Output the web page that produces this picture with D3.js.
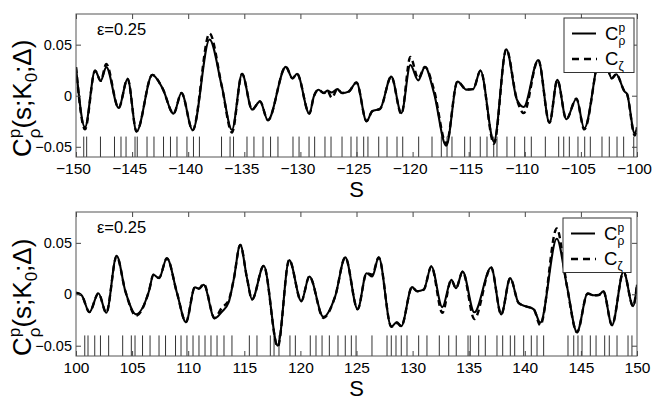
<!DOCTYPE html>
<html><head><meta charset="utf-8">
<script src="https://cdn.jsdelivr.net/npm/d3@7"></script>
<style>body{margin:0;background:#fff} svg{display:block} text{font-family:"Liberation Sans",Arial,Helvetica,sans-serif;fill:#000}</style>
</head><body><svg id="c" width="654" height="403"></svg>
<script>
// ---- data: upper panel (s from -150 to -100) ----
const topS=[-150,-149.2,-148.3,-147.8,-147.3,-146.2,-145.4,-144.6,-143.2,-142.3,-141.3,-140.6,-139.6,-138.1,-137.0,-136.1,-135.2,-134.3,-133.6,-132.9,-131.3,-130.7,-130.3,-129.2,-128.8,-128.4,-127.9,-127.6,-127.2,-126.7,-126.3,-125.7,-125.0,-124.1,-123.6,-122.9,-121.9,-121.0,-120.2,-119.5,-118.9,-118.1,-117.0,-116.0,-115.2,-114.6,-113.95,-112.75,-111.65,-110.7,-110.1,-108.8,-107.8,-107.1,-106.3,-105.4,-104.7,-103.2,-102.7,-102.25,-101.85,-101.1,-100.9,-100.2,-100.0];
const topRho=[0.028,-0.031,0.0246,0.0146,0.028,-0.012,0.0165,-0.035,0.0204,0.0075,-0.0175,0.0026,-0.0337,0.055,0.009,-0.0335,0.0214,-0.0136,-0.0055,-0.024,0.0282,0.017,0.0215,-0.0175,-0.0006,0.0058,0.0026,0.005,0.0032,0.0065,0.0026,0.004,0.013,-0.025,-0.0152,-0.0129,0.0187,-0.017,0.030,0.015,0.0282,0.003,-0.049,0.0139,0.006,0.0065,0.0246,-0.045,0.0455,-0.004,-0.011,0.035,-0.0265,0.0155,-0.023,-0.003,-0.032,0.042,0.030,0.017,0.021,0.004,0.002,-0.037,-0.031];
const topZeta=[0.028,-0.033,0.0246,0.0146,0.031,-0.012,0.0165,-0.035,0.0204,0.0075,-0.0175,0.0026,-0.0337,0.061,0.009,-0.036,0.0214,-0.0136,-0.0055,-0.024,0.0282,0.017,0.0215,-0.0175,-0.0006,0.0058,0.0026,0.005,-0.002,0.0065,0.0026,0.004,0.013,-0.025,-0.0152,-0.0129,0.0187,-0.018,0.038,0.017,0.0282,0.006,-0.047,0.0139,0.006,0.0065,0.0246,-0.047,0.0455,-0.004,-0.017,0.035,-0.0265,0.0155,-0.023,-0.003,-0.033,0.042,0.030,0.017,0.021,0.004,0.002,-0.039,-0.031];
const topRug=[-149.31,-149.05,-147.82,-146.57,-145.99,-145.54,-144.74,-144.54,-143.67,-143.05,-142.20,-141.58,-141.00,-140.11,-139.53,-139.00,-137.03,-136.27,-135.96,-134.76,-134.14,-133.33,-132.66,-132.00,-130.66,-130.12,-129.23,-128.73,-127.81,-127.27,-126.29,-125.49,-124.96,-124.36,-123.98,-123.02,-122.28,-121.39,-120.88,-119.46,-118.27,-117.44,-116.93,-116.49,-115.36,-114.86,-113.97,-113.37,-112.77,-112.48,-111.59,-110.90,-110.01,-109.42,-108.17,-106.98,-106.53,-106.03,-105.26,-104.66,-104.16,-103.12,-102.47,-101.78,-101.19,-100.29];
const topXTicks=[-150,-145,-140,-135,-130,-125,-120,-115,-110,-105,-100];

// ---- data: lower panel (s from 100 to 150) ----
const botS=[100.0,100.5,101.2,102.0,102.7,103.62,104.4,105.35,106.5,106.9,107.4,108.1,109.0,109.8,110.6,110.96,111.38,112.35,113.0,113.6,114.05,114.64,115.24,115.69,116.73,117.98,119.0,120.08,120.8,122.05,123.1,124.0,125.1,125.9,126.4,126.98,128.1,128.6,128.99,129.95,130.4,130.99,131.67,132.65,133.45,133.87,134.46,135.5,137.0,137.9,138.7,139.45,140.05,140.8,141.38,142.85,143.76,144.65,145.6,146.14,146.6,147.0,147.77,148.8,149.65,150.0];
const botRho=[0.0015,-0.001,-0.0173,0.001,-0.018,0.0375,0.003,-0.0195,0.003,0.019,0.0157,0.035,0.0013,-0.027,0.0068,0.0055,0.0092,-0.0235,-0.017,-0.008,0.014,0.048,0.0157,-0.005,0.0276,-0.05,0.0334,-0.0067,0.0173,-0.022,-0.002,0.0359,-0.0145,0.0205,0.0173,0.0359,-0.0315,-0.027,-0.031,0.007,0.003,0.0045,0.027,-0.0125,0.014,0.006,0.022,-0.0175,0.026,-0.0195,0.0157,-0.0084,-0.0115,-0.0147,-0.0276,0.054,0.0077,-0.0366,0.0007,-0.001,-0.0007,0.003,-0.030,0.022,-0.0115,0.0093];
const botZeta=[0.0015,-0.001,-0.0173,0.001,-0.018,0.037,0.003,-0.021,0.003,0.019,0.016,0.035,0.0013,-0.027,0.0068,0.0055,0.0103,-0.023,-0.013,-0.006,0.014,0.048,0.0157,-0.005,0.0276,-0.051,0.0334,-0.0067,0.0173,-0.023,-0.002,0.0359,-0.0145,0.0205,0.019,0.0359,-0.0315,-0.028,-0.031,0.007,0.003,0.0045,0.027,-0.018,0.014,0.006,0.022,-0.024,0.026,-0.0195,0.0157,-0.0084,-0.0115,-0.0147,-0.030,0.064,0.0077,-0.037,0.0007,-0.001,-0.0007,0.003,-0.030,0.022,-0.0115,0.0093];
const botRug=[100.78,101.07,101.67,102.18,102.91,104.16,104.93,105.26,105.93,106.60,107.40,107.98,108.87,109.36,109.89,110.43,110.96,111.50,112.03,112.57,113.19,113.90,115.45,116.13,117.32,117.65,118.09,119.07,119.55,120.88,121.39,121.93,122.58,123.35,124.00,124.54,124.96,126.38,127.72,128.10,128.52,128.99,129.50,130.54,131.28,132.38,133.22,133.89,134.94,135.14,135.89,136.48,137.52,138.03,138.71,139.10,139.90,140.58,141.09,141.68,143.85,144.36,144.74,145.10,145.84,146.35,147.12,147.53,148.22,149.20,149.55];
const botXTicks=[100,105,110,115,120,125,130,135,140,145,150];

const yTicks=[-0.05,0,0.05];
const yDomain=[-0.06,0.08];
const rugRange=[-0.06,-0.04];
const epsText="ε=0.25";
const xLabel="S";

const svg=d3.select('#c');
const L=76,R=637;

function panel(cfg,idx){
  const x=d3.scaleLinear().domain(cfg.xd).range([L,R]);
  const y=d3.scaleLinear().domain(yDomain).range([cfg.b,cfg.t]);
  const g=svg.append('g');
  const cid='clip'+idx;
  g.append('clipPath').attr('id',cid).append('rect')
    .attr('x',L).attr('y',cfg.t).attr('width',R-L).attr('height',cfg.b-cfg.t);
  const pg=g.append('g').attr('clip-path',`url(#${cid})`);
  pg.selectAll('line.rug').data(cfg.rug).join('line').attr('class','rug')
    .attr('x1',d=>x(d)).attr('x2',d=>x(d)).attr('y1',y(rugRange[0])).attr('y2',y(rugRange[1]))
    .attr('stroke','#333').attr('stroke-width',1);
  const line=d3.line().x(d=>x(d[0])).y(d=>y(d[1])).curve(d3.curveMonotoneX);
  const rho=cfg.s.map((s,i)=>[s,cfg.rho[i]]);
  const zeta=cfg.s.map((s,i)=>[s,cfg.zeta[i]]);
  pg.append('path').attr('d',line(rho)).attr('fill','none').attr('stroke','#000').attr('stroke-width',2.1);
  pg.append('path').attr('d',line(zeta)).attr('fill','none').attr('stroke','#000').attr('stroke-width',2.4).attr('stroke-dasharray','6,4');

  // axes
  const fmtX=d=>d<0?'\u2212'+Math.abs(d):String(d);
  const ax=g.append('g').attr('transform',`translate(0,${cfg.b})`)
    .call(d3.axisBottom(x).tickValues(cfg.xt).tickSizeInner(-5).tickSizeOuter(0).tickPadding(6).tickFormat(fmtX));
  const axT=g.append('g').attr('transform',`translate(0,${cfg.t})`)
    .call(d3.axisTop(x).tickValues(cfg.xt).tickSizeInner(-5).tickSizeOuter(0).tickFormat(''));
  const ay=g.append('g').attr('transform',`translate(${L},0)`)
    .call(d3.axisLeft(y).tickValues(yTicks).tickSizeInner(-5).tickSizeOuter(0).tickPadding(4).tickFormat(d=>d===0?'0':d3.format('.2f')(d)));
  const ayR=g.append('g').attr('transform',`translate(${R},0)`)
    .call(d3.axisRight(y).tickValues(yTicks).tickSizeInner(-5).tickSizeOuter(0).tickFormat(''));
  [ax,axT,ay,ayR].forEach(a=>{a.select('.domain').remove();a.selectAll('.tick line').attr('stroke','#444');});
  ax.selectAll('text').attr('font-size',15.5).attr('font-family','"Liberation Sans",Arial,sans-serif')
    .attr('dx',d=>d<0?-3:0);
  ay.selectAll('text').attr('font-size',14.5).attr('font-family','"Liberation Sans",Arial,sans-serif');

  g.append('rect').attr('x',L).attr('y',cfg.t).attr('width',R-L).attr('height',cfg.b-cfg.t)
    .attr('fill','none').attr('stroke','#555').attr('stroke-width',1);

  // epsilon label
  g.append('text').attr('x',97).attr('y',cfg.t+21).attr('font-size',16.5).text(epsText);

  // legend
  const lb=cfg.leg;
  g.append('rect').attr('x',lb[0]).attr('y',lb[1]).attr('width',lb[2]).attr('height',lb[3])
    .attr('fill','#fff').attr('stroke','#333').attr('stroke-width',1);
  const r1=lb[1]+15.5,r2=lb[1]+41;
  g.append('line').attr('x1',lb[0]+8).attr('x2',lb[0]+32).attr('y1',r1).attr('y2',r1).attr('stroke','#000').attr('stroke-width',2);
  g.append('line').attr('x1',lb[0]+8).attr('x2',lb[0]+33).attr('y1',r2).attr('y2',r2).attr('stroke','#000').attr('stroke-width',2.4).attr('stroke-dasharray','7,5');
  const t1=g.append('text').attr('x',lb[0]+41).attr('y',r1+6).attr('font-size',18.5);
  t1.append('tspan').text('C');
  t1.append('tspan').attr('font-size',12).attr('dy',-8).text('p');
  t1.append('tspan').attr('font-size',12).attr('dx',-6.5).attr('dy',13).text('ρ');
  const t2=g.append('text').attr('x',lb[0]+41).attr('y',r2+6).attr('font-size',18.5);
  t2.append('tspan').text('C');
  t2.append('tspan').attr('font-size',12).attr('dy',5).text('ζ');

  // y label
  const yl=g.append('text').attr('transform',`translate(31,${cfg.b}) rotate(-90)`).attr('font-size',26);
  yl.append('tspan').text('C');
  yl.append('tspan').attr('font-size',17).attr('dy',-11).text('p');
  yl.append('tspan').attr('font-size',17).attr('dx',-9.5).attr('dy',20).text('ρ');
  yl.append('tspan').attr('dy',-9).text('(s;K');
  yl.append('tspan').attr('font-size',17).attr('dy',6).text('0');
  yl.append('tspan').attr('dy',-6).text(';Δ)');

  // x label
  g.append('text').attr('x',(L+R)/2).attr('y',cfg.b+40).attr('text-anchor','middle').attr('font-size',22).text(xLabel);
}

panel({xd:[-150,-100],t:14,b:157,s:topS,rho:topRho,zeta:topZeta,rug:topRug,xt:topXTicks,leg:[564,18,70,54.5]},0);
panel({xd:[100,150],t:212,b:356,s:botS,rho:botRho,zeta:botZeta,rug:botRug,xt:botXTicks,leg:[563,218,68,54.5]},1);
</script></body></html>
